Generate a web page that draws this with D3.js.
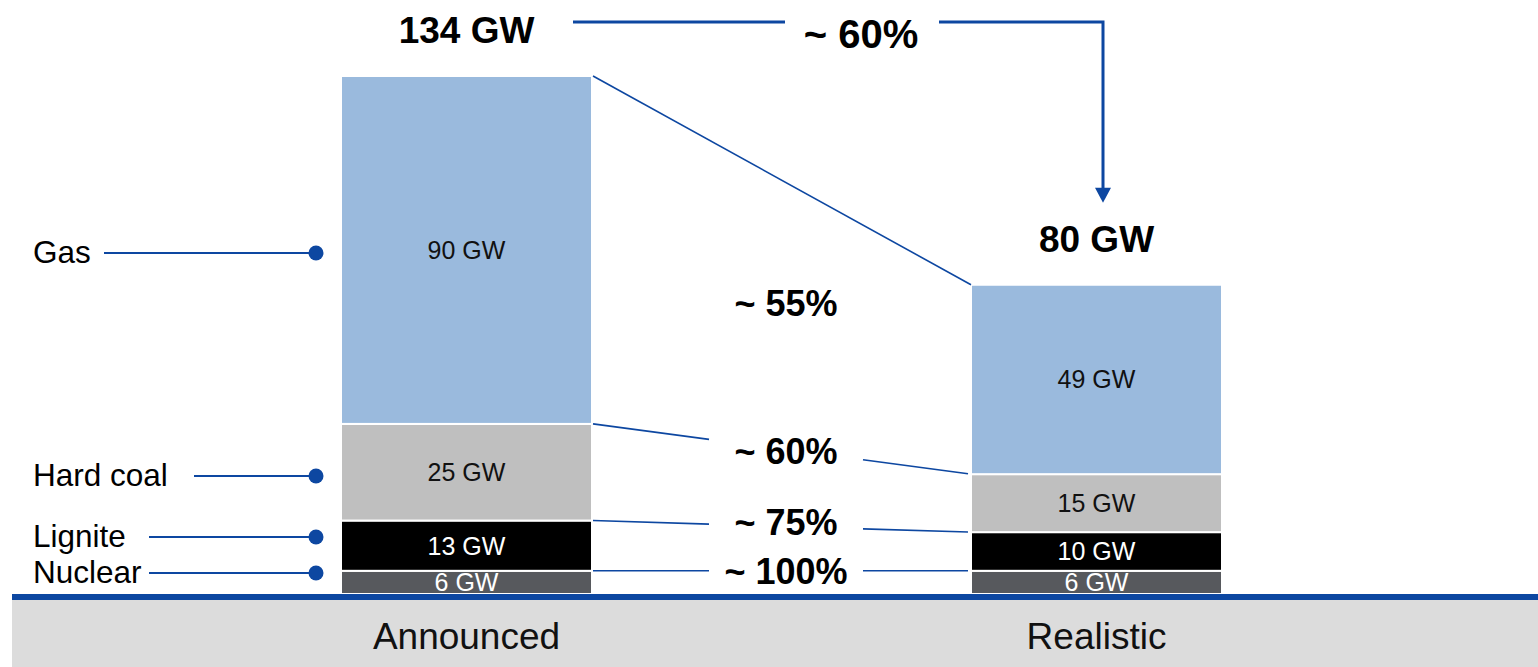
<!DOCTYPE html>
<html>
<head>
<meta charset="utf-8">
<title>Announced vs realistic capacity</title>
<style>
  html, body { margin: 0; padding: 0; background: #fff; }
  svg { display: block; font-family: "Liberation Sans", Arial, sans-serif; }
</style>
</head>
<body>
<div id="chart"></div>
<script src="https://cdn.jsdelivr.net/npm/d3@7"></script>
<script>
// ---- data ----
var categories = ["Announced", "Realistic"];
var fuels = ["Nuclear", "Lignite", "Hard coal", "Gas"];
var nuclear = [6, 6];
var lignite = [13, 10];
var hardCoal = [25, 15];
var gas = [90, 49];
var totalLabels = ["134 GW", "80 GW"];
var ratioLabels = ["~ 100%", "~ 75%", "~ 60%", "~ 55%"];
var overallRatio = "~ 60%";

var colors = ["#57595d", "#000000", "#bfbfbf", "#9abadd"];
var textColors = ["#fff", "#fff", "#111", "#111"];
var blue = "#0d47a1";

var width = 1538, height = 667;
var barWidth = 251;

var rows = categories.map(function(c, i){
    return { cat: c, "Nuclear": nuclear[i], "Lignite": lignite[i], "Hard coal": hardCoal[i], "Gas": gas[i] };
});
var stacked = d3.stack().keys(fuels)(rows);

var x = d3.scalePoint().domain(categories).range([466.5, 1096.5]);
var y = d3.scaleLinear().domain([0, 134]).range([594, 76]);

var svg = d3.select('#chart').append('svg')
    .attr('width', width)
    .attr('height', height);

// gray category strip
svg.append('rect').attr('x', 12).attr('y', 599).attr('width', width - 12).attr('height', height - 599)
    .style('fill', '#dcdcdc');

// bars
var layers = svg.selectAll('g.layer').data(stacked).enter().append('g').attr('class', 'layer');
layers.selectAll('rect')
    .data(function(d){ return d; })
    .enter().append('rect')
    .attr('x', function(d){ return x(d.data.cat) - barWidth / 2; })
    .attr('y', function(d){ return y(d[1]); })
    .attr('width', barWidth)
    .attr('height', function(d){ return y(d[0]) - y(d[1]); })
    .style('fill', function(d){ return colors[fuels.indexOf(d3.select(this.parentNode).datum().key)]; })
    .style('stroke', '#fff')
    .style('stroke-width', 2);

// segment value labels
layers.each(function(layer, li){
    d3.select(this).selectAll('text')
        .data(layer)
        .enter().append('text')
        .attr('x', function(d){ return x(d.data.cat); })
        .attr('y', function(d){ return (y(d[0]) + y(d[1])) / 2; })
        .attr('dy', '0.36em')
        .attr('text-anchor', 'middle')
        .style('font-size', '25px')
        .style('fill', textColors[li])
        .text(function(d){ return (d[1] - d[0]) + ' GW'; });
});

// blue base line
svg.append('line').attr('x1', 12).attr('x2', width).attr('y1', 597).attr('y2', 597)
    .style('stroke', blue).style('stroke-width', 6);

// category labels
svg.selectAll('text.cat').data(categories).enter().append('text')
    .attr('class', 'cat')
    .attr('x', function(d){ return x(d); })
    .attr('y', 649)
    .attr('text-anchor', 'middle')
    .style('font-size', '37px')
    .style('fill', '#111')
    .text(function(d){ return d; });

// total labels above the bars
var totals = categories.map(function(c, i){ return stacked[stacked.length - 1][i][1]; });
svg.selectAll('text.total').data(totals).enter().append('text')
    .attr('class', 'total')
    .attr('x', function(d, i){ return x(categories[i]); })
    .attr('y', function(d){ return y(d) - 33; })
    .attr('text-anchor', 'middle')
    .style('font-size', '37px')
    .style('font-weight', 'bold')
    .style('fill', '#000')
    .text(function(d, i){ return totalLabels[i]; });

// connector lines between the bars
var xa = x(categories[0]) + barWidth / 2 + 1,
    xr = x(categories[1]) - barWidth / 2,
    mid = (xa + xr) / 2 + 4,
    gapHalf = 77,
    labelShift = [13, 9, 14];

stacked.forEach(function(layer, i){
    var ya = y(layer[0][1]), yr = y(layer[1][1]);
    var yAt = function(px){ return ya + (yr - ya) * (px - xa) / (xr - xa); };
    if (i < stacked.length - 1) {
        [[xa, mid - gapHalf], [mid + gapHalf, xr - 3]].forEach(function(s){
            svg.append('line')
                .attr('x1', s[0]).attr('y1', yAt(s[0]))
                .attr('x2', s[1]).attr('y2', yAt(s[1]))
                .style('stroke', blue).style('stroke-width', 1.6);
        });
        svg.append('text')
            .attr('x', mid)
            .attr('y', yAt(mid) + labelShift[i])
            .attr('text-anchor', 'middle')
            .style('font-size', '36px').style('font-weight', 'bold')
            .text(ratioLabels[i]);
    } else {
        svg.append('line')
            .attr('x1', xa).attr('y1', ya)
            .attr('x2', xr).attr('y2', yr)
            .style('stroke', blue).style('stroke-width', 1.6);
        var ca = (y(layer[0][0]) + y(layer[0][1])) / 2,
            cr = (y(layer[1][0]) + y(layer[1][1])) / 2;
        svg.append('text')
            .attr('x', mid)
            .attr('y', (ca + cr) / 2 + 1)
            .attr('text-anchor', 'middle')
            .style('font-size', '36px').style('font-weight', 'bold')
            .text(ratioLabels[i]);
    }
});

// overall arrow from announced total to realistic total
var arrowY = y(totals[0]) - 54,
    arrowX = x(categories[1]) + 6.5,
    tipY = y(totals[1]) - 82;
svg.append('path')
    .attr('d', 'M573,' + arrowY + 'H785M939,' + arrowY + 'H' + arrowX + 'V' + (tipY - 14))
    .style('fill', 'none').style('stroke', blue).style('stroke-width', 3);
svg.append('path')
    .attr('d', 'M' + (arrowX - 8) + ',' + (tipY - 15) + 'L' + (arrowX + 8) + ',' + (tipY - 15) + 'L' + arrowX + ',' + tipY + 'Z')
    .style('fill', blue);
svg.append('text')
    .attr('x', 861).attr('y', arrowY + 26)
    .attr('text-anchor', 'middle')
    .style('font-size', '40px').style('font-weight', 'bold')
    .text(overallRatio);

// legend on the left
var legendY = [573, 537, 476, 253];
var legendLineStart = [149, 149, 194, 104];
var legend = svg.selectAll('g.legend').data(fuels).enter().append('g').attr('class', 'legend');
legend.append('text')
    .attr('x', 33)
    .attr('y', function(d, i){ return legendY[i] + 10; })
    .style('font-size', '31.5px')
    .style('fill', '#000')
    .text(function(d){ return d; });
legend.append('line')
    .attr('x1', function(d, i){ return legendLineStart[i]; })
    .attr('x2', 316)
    .attr('y1', function(d, i){ return legendY[i]; })
    .attr('y2', function(d, i){ return legendY[i]; })
    .style('stroke', blue).style('stroke-width', 2);
legend.append('circle')
    .attr('cx', 316)
    .attr('cy', function(d, i){ return legendY[i]; })
    .attr('r', 7.5)
    .style('fill', blue);
</script>
</body>
</html>
